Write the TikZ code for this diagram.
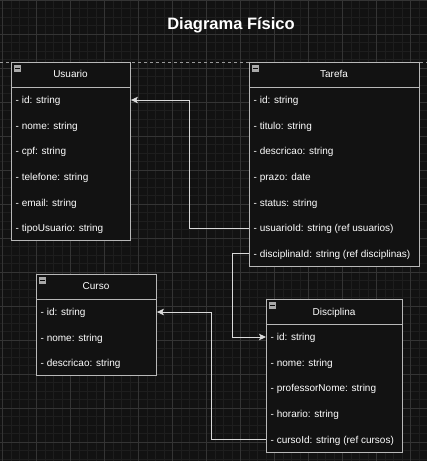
\documentclass[tikz,border=0pt]{standalone}
\usepackage{fontspec}
\setmainfont{Liberation Sans}
\usetikzlibrary{arrows.meta}
\definecolor{bgc}{HTML}{121212}
\definecolor{minorc}{HTML}{1E1E1E}
\definecolor{majorc}{HTML}{343434}
\definecolor{boxc}{HTML}{B8B8B8}
\definecolor{edgec}{HTML}{DADADA}
\definecolor{iconc}{HTML}{A8A8A8}
\tikzset{
  tbl/.style={draw=boxc, line width=0.9pt, fill=bgc, rectangle, inner sep=0pt, anchor=north west},
  hdr/.style={text=white, font=\fontsize{10}{12}\selectfont, inner sep=0pt, anchor=base},
  row/.style={text=white, font=\fontsize{10}{12}\selectfont, inner sep=0pt, anchor=base west},
  edge/.style={draw=edgec, line width=1pt, -{Stealth[length=7pt,width=6.5pt,inset=1.5pt]}},
  minorl/.style={draw=minorc, line width=0.6pt},
  majorl/.style={draw=majorc, line width=0.8pt},
}
\newcommand{\tblicon}[2]{\fill[iconc] (#1+3,#2+3) rectangle (#1+10,#2+10);\fill[bgc!60!black] (#1+4.2,#2+5.8) rectangle (#1+8.8,#2+7.2);}
\begin{document}
\begin{tikzpicture}[x=1pt,y=-1pt]
\useasboundingbox (0,0) rectangle (427,461);
\fill[bgc] (0,0) rectangle (427,461);
% grid
\foreach \i in {0,...,49} {\draw[minorl] ({2.5+8.5*\i},0) -- ({2.5+8.5*\i},461);}
\foreach \j in {0,...,54} {\draw[minorl] (0,{8.5*\j}) -- (427,{8.5*\j});}
\foreach \i in {0,...,12} {\draw[majorl] ({2.5+34*\i},0) -- ({2.5+34*\i},461);}
\foreach \j in {0,...,13} {\draw[majorl] (0,{34*\j}) -- (427,{34*\j});}
% page break line
\draw[draw=gray!80, line width=0.8pt, dash pattern=on 3pt off 3pt] (0,62) -- (427,62);
% title
\node[text=white, font=\fontsize{16.5}{19}\selectfont\bfseries, inner sep=0pt, anchor=base] (title) at (231,29) {Diagrama Físico};

% Usuario
\node[tbl, minimum width=119pt, minimum height=178pt] (usuario) at (11,62) {};
\draw[boxc, line width=0.9pt] (11,87) -- (130,87);
\tblicon{11}{62}
\node[hdr] (uh) at (70.5,77.6) {Usuario};
\node[row] (uid) at (15.5,103.6) {- id: string};
\node[row] (unome) at (15.5,129.2) {- nome: string};
\node[row] (ucpf) at (15.5,154.8) {- cpf: string};
\node[row] (utel) at (15.5,180.4) {- telefone: string};
\node[row] (uemail) at (15.5,206) {- email: string};
\node[row] (utipo) at (15.5,231.6) {- tipoUsuario: string};

% Tarefa
\node[tbl, minimum width=170pt, minimum height=204pt] (tarefa) at (249,62) {};
\draw[boxc, line width=0.9pt] (249,87.5) -- (419,87.5);
\tblicon{249}{62}
\node[hdr] (th) at (334,77.6) {Tarefa};
\node[row] (tid) at (253.5,103.6) {- id: string};
\node[row] (ttit) at (253.5,129.2) {- titulo: string};
\node[row] (tdesc) at (253.5,154.8) {- descricao: string};
\node[row] (tprazo) at (253.5,180.4) {- prazo: date};
\node[row] (tstatus) at (253.5,206) {- status: string};
\node[row] (tusu) at (253.5,231.6) {- usuarioId: string (ref usuarios)};
\node[row] (tdisc) at (253.5,257.2) {- disciplinaId: string (ref disciplinas)};

% Curso
\node[tbl, minimum width=120pt, minimum height=101pt] (curso) at (36,274) {};
\draw[boxc, line width=0.9pt] (36,299.3) -- (156,299.3);
\tblicon{36}{274}
\node[hdr] (ch) at (96,289.6) {Curso};
\node[row] (cid) at (40.5,315.6) {- id: string};
\node[row] (cnome) at (40.5,341.2) {- nome: string};
\node[row] (cdesc) at (40.5,366.8) {- descricao: string};

% Disciplina
\node[tbl, minimum width=136pt, minimum height=153pt] (disciplina) at (266,299) {};
\draw[boxc, line width=0.9pt] (266,324.3) -- (402,324.3);
\tblicon{266}{299}
\node[hdr] (dh) at (334,315.6) {Disciplina};
\node[row] (did) at (270.5,340.6) {- id: string};
\node[row] (dnome) at (270.5,366.2) {- nome: string};
\node[row] (dprof) at (270.5,391.8) {- professorNome: string};
\node[row] (dhor) at (270.5,417.4) {- horario: string};
\node[row] (dcur) at (270.5,443) {- cursoId: string (ref cursos)};

% connectors
\draw[edge] (tarefa.west |- 0,228) -- (189,228) |- (usuario.east |- 0,100);
\draw[edge] (tarefa.west |- 0,253.6) -- (232,253.6) |- (disciplina.west |- 0,337);
\draw[edge] (disciplina.west |- 0,439.4) -- (211,439.4) |- (curso.east |- 0,312);
\end{tikzpicture}
\end{document}
